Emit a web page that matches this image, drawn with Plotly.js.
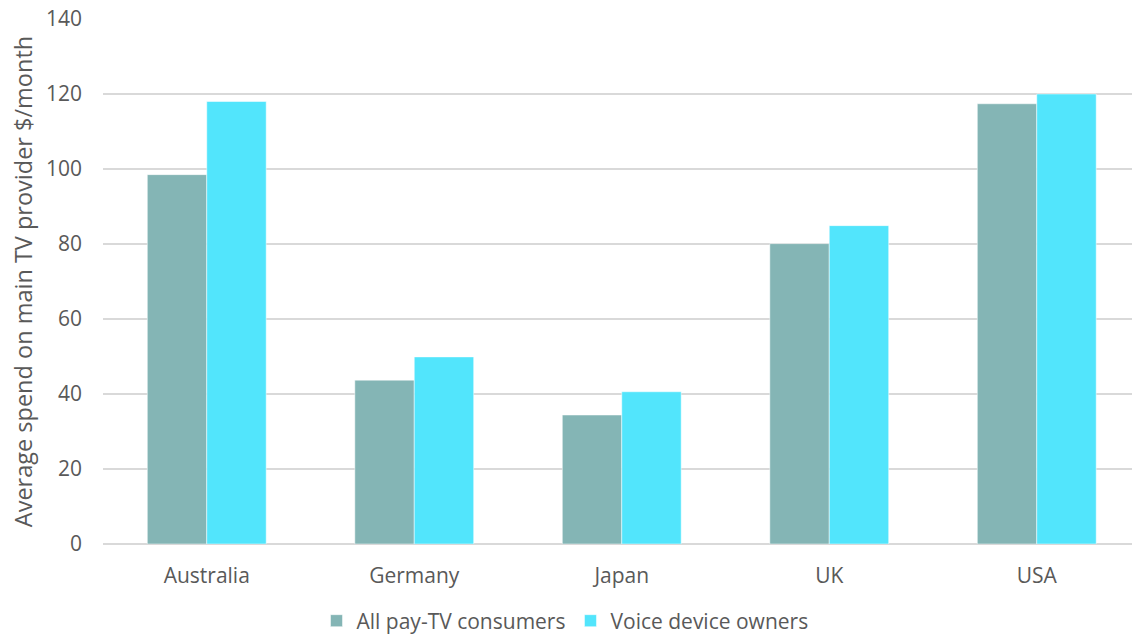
<!DOCTYPE html>
<html>
<head>
<meta charset="utf-8">
<script src="https://cdn.plot.ly/plotly-3.0.1.min.js"></script>
<style>html,body{margin:0;padding:0;background:#fff;}#chart{width:1132px;height:635px;}</style>
</head>
<body>
<div id="chart"></div>
<script>
const countries = ["Australia", "Germany", "Japan", "UK", "USA"];
const allPayTV = [98.5, 43.7, 34.4, 80.1, 117.4];
const voiceOwners = [118.0, 49.9, 40.6, 84.9, 120.0];
const seriesNames = ["All pay-TV consumers", "Voice device owners"];
const yTicks = [0, 20, 40, 60, 80, 100, 120, 140];

const textColor = "#595959";
const fontFam = "'Open Sans', 'Noto Sans', sans-serif";

const traces = [
  {type: "bar", name: seriesNames[0], x: countries, y: allPayTV,
   marker: {color: "#84B5B5", line: {color: "#ffffff", width: 0.5}}},
  {type: "bar", name: seriesNames[1], x: countries, y: voiceOwners,
   marker: {color: "#52E5FC", line: {color: "#ffffff", width: 0.5}}}
];

const layout = {
  width: 1132, height: 635,
  margin: {l: 103, r: 0, t: 19, b: 91, pad: 0, autoexpand: false},
  paper_bgcolor: "#ffffff", plot_bgcolor: "#ffffff",
  barmode: "group", bargap: 0.427, bargroupgap: 0,
  font: {family: fontFam, color: textColor, size: 20},
  showlegend: true,
  legend: {orientation: "h", xref: "container", yref: "container",
           x: 0.2796, xanchor: "left", y: 0.022, yanchor: "middle",
           font: {size: 21, color: textColor}, itemwidth: 30, tracegroupgap: 0},
  xaxis: {type: "category", range: [-0.5, 4.459], showgrid: false, zeroline: false,
          showline: false, ticks: "", ticklabelstandoff: 17, automargin: false,
          tickfont: {size: 21, color: textColor}},
  yaxis: {range: [0, 140], tickvals: yTicks, ticktext: yTicks.map(String),
          showgrid: true, gridcolor: "#D9D9D9", gridwidth: 2, automargin: false,
          zeroline: true, zerolinecolor: "#D9D9D9", zerolinewidth: 2,
          showline: false, ticks: "", ticklabelstandoff: 20,
          tickfont: {size: 21, color: textColor},
          title: {text: "Average spend on main TV provider $/month", standoff: 6,
                  font: {size: 23.5, color: textColor}}}
};

Plotly.newPlot("chart", traces, layout, {displayModeBar: false, staticPlot: true});
</script>
</body>
</html>
